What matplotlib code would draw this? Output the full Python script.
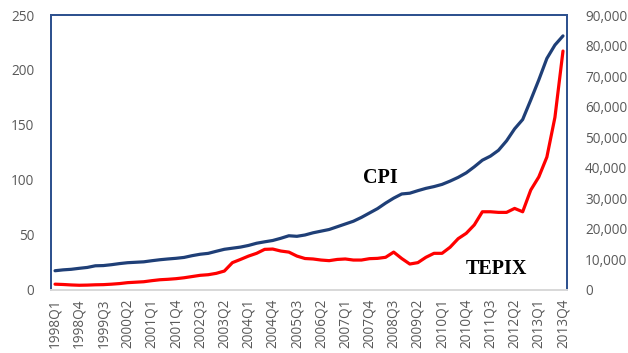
import numpy as np
import matplotlib.pyplot as plt
from matplotlib.ticker import FuncFormatter

# quarterly data 1998Q1 - 2013Q4
quarters = []
for yr in range(1998, 2014):
    for q in range(1, 5):
        quarters.append('%dQ%d' % (yr, q))

cpi = [17.5, 18.3, 18.8, 19.7, 20.5, 22.0, 22.2, 23.0,
       24.0, 24.8, 25.2, 25.6, 26.6, 27.5, 28.2, 28.8,
       29.6, 31.2, 32.5, 33.3, 35.2, 37.0, 38.0, 39.0,
       40.5, 42.5, 43.8, 45.0, 47.0, 49.3, 48.8, 50.0,
       52.0, 53.5, 55.0, 57.5, 60.0, 62.5, 66.0, 70.0,
       74.0, 79.0, 83.5, 87.3, 88.0, 90.3, 92.4, 94.0,
       96.0, 99.0, 102.4, 106.5, 112.0, 118.0, 121.7, 127.0,
       135.6, 146.5, 155.0, 172.7, 191.0, 210.5, 222.7, 231.0]

tepix = [1900, 1800, 1650, 1550, 1600, 1700, 1750, 1900,
         2100, 2400, 2550, 2700, 3050, 3350, 3500, 3700,
         4000, 4400, 4800, 5000, 5450, 6200, 8950, 10000,
         11100, 12000, 13300, 13400, 12750, 12400, 11100, 10300,
         10150, 9800, 9600, 10000, 10150, 9800, 9800, 10250,
         10350, 10700, 12400, 10300, 8500, 8950, 10700, 12000,
         12000, 14000, 16800, 18550, 21300, 25600, 25600, 25400,
         25400, 26700, 25600, 32700, 37000, 43500, 56500, 78200]

plt.rcParams['font.family'] = ['Open Sans', 'DejaVu Sans']
grey = '#595959'
frame = '#2F528F'

x = np.arange(len(quarters))

fig = plt.figure(figsize=(6.28, 3.53), dpi=100)
ax1 = fig.add_subplot(1, 1, 1)
fig.subplots_adjust(left=0.0812, right=0.9029, top=0.9575, bottom=0.1785)
ax2 = ax1.twinx()

ax1.plot(x, cpi, color='#1F3F77', linewidth=2.3, solid_capstyle='round', zorder=3)
ax2.plot(x, tepix, color='#FF0000', linewidth=2.3, solid_capstyle='round', zorder=3)

ax1.set_xlim(-0.5, len(quarters) - 0.5)
ax1.set_ylim(0, 250)
ax1.set_yticks(np.arange(0, 251, 50))
ax2.set_ylim(0, 90000)
ax2.set_yticks(np.arange(0, 90001, 10000))
ax2.yaxis.set_major_formatter(FuncFormatter(lambda v, p: '{:,.0f}'.format(v)))

ax1.set_xticks(x[::3])
ax1.set_xticklabels(quarters[::3], rotation=90, va='top', ha='center')

for a in (ax1, ax2):
    a.tick_params(length=0, colors=grey, labelsize=9.8)
    for side in ('left', 'right', 'top'):
        a.spines[side].set_color(frame)
        a.spines[side].set_linewidth(1.4)
    a.spines['bottom'].set_color('#D9D9D9')
    a.spines['bottom'].set_linewidth(1.4)
ax1.tick_params(axis='y', pad=12)
ax1.tick_params(axis='x', pad=6)
ax2.tick_params(axis='y', pad=13)

# series names written inside the plot
ax1.text(40.3, 102, 'CPI', family='Liberation Serif', weight='bold',
         fontsize=14.5, ha='center', va='center')
ax1.text(54.7, 19, 'TEPIX', family='Liberation Serif', weight='bold',
         fontsize=14.5, ha='center', va='center')

plt.savefig('out.png', dpi=100)
